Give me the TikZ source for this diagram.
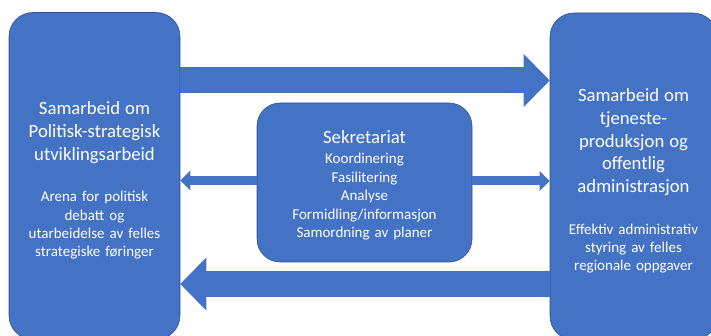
\documentclass[tikz,border=0pt]{standalone}
\usepackage{fontspec}
\setmainfont{Carlito}
\usetikzlibrary{arrows.meta}
\definecolor{officeblue}{HTML}{4472C4}
\definecolor{officeedge}{HTML}{2F528F}
\newcommand{\headfont}{\fontsize{18.7}{22.8}\selectfont}
\newcommand{\bodyfont}{\fontsize{15}{18.4}\selectfont}
% pulls the text block down inside its box
\newcommand{\textdrop}[1]{\par\nointerlineskip\vskip -#1\hbox{}}

\begin{document}
\begin{tikzpicture}[x=1pt, y=-1pt,
  area/.style={draw=officeedge, line width=0.6pt, fill=officeblue, rounded corners=24pt,
               text=white, align=center, inner sep=0pt, font=\bodyfont},
  bigarrow/.style={draw=officeblue, line width=26pt,
                   -{Triangle[length=26pt, width=53pt, line width=0pt]}},
  smallarrow/.style={draw=officeblue, line width=9pt,
                     -{Triangle[length=10pt, width=20pt, line width=0pt]}},
]
  \useasboundingbox (0,0) rectangle (711,336);

  % Areas
  \node[area, text width=171pt, minimum height=327pt] (pol) at (94.5,176)
    {\headfont Samarbeid om\\Politisk-strategisk\\utviklingsarbeid\par\vskip 23pt
     \bodyfont Arena for politisk\\debatt og\\utarbeidelse av felles\\strategiske føringer\textdrop{9pt}};
  \node[area, text width=167pt, minimum height=327pt] (tje) at (633.5,176.5)
    {\headfont Samarbeid om\\tjeneste-\\produksjon og\\offentlig\\administrasjon\par\vskip 23pt
     \bodyfont Effektiv administrativ\\styring av felles\\regionale oppgaver\textdrop{9pt}};
  \node[area, text width=215pt, minimum height=159pt, rounded corners=23pt] (sek) at (364.5,182.5)
    {\headfont Sekretariat\par\vskip 1.5pt
     \bodyfont Koordinering\\Fasilitering\\Analyse\\Formidling/informasjon\\Samordning av planer\textdrop{6pt}};

  % Arrows
  \draw[bigarrow] (pol.east |- 0,80.5) -- (tje.west |- 0,80.5);
  \draw[bigarrow] (tje.west |- 0,284) -- (pol.east |- 0,284);
  \draw[smallarrow] (sek.west |- 0,180.5) -- (pol.east |- 0,180.5);
  \draw[smallarrow] (sek.east |- 0,181) -- (tje.west |- 0,181);
\end{tikzpicture}
\end{document}
